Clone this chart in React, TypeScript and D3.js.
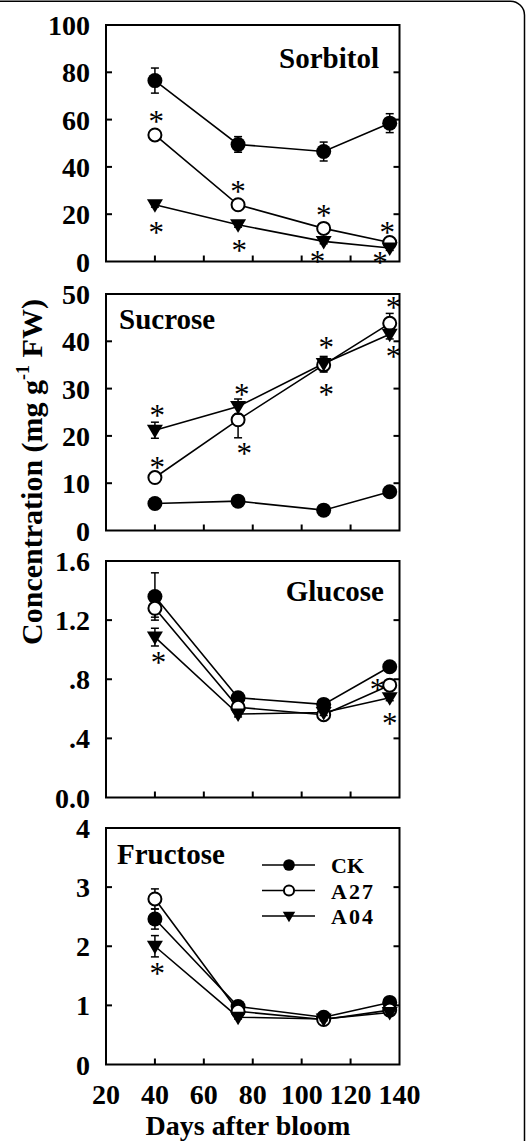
import React from "react";
import * as d3 from "d3";

// ---------- data ----------
const days = [40, 74, 109, 136];
const seriesNames = ["CK", "A27", "A04"];
const legendLabels = ["CK", "A27", "A04"];
const xTicks = [20, 40, 60, 80, 100, 120, 140];

const sorbitolCK = [76.5, 49.5, 46.5, 58.5];
const sorbitolCKErr = [5.3, 3.3, 4.0, 4.0];
const sorbitolA27 = [53.5, 24, 14, 8];
const sorbitolA27Err = [1.5, 2, 1.5, 1];
const sorbitolA04 = [24, 15.5, 8.5, 5.7];
const sorbitolA04Err = [1, 1, 1, 1];
const sorbitolStars = [[40.5, 60.8], [74, 31.3], [109, 21.1], [135, 14.1], [40.5, 13.8], [74.5, 6.3], [106.5, 1.6], [132, 1.1]];
const sorbitolTicks = [0, 20, 40, 60, 80, 100];
const sorbitolTickLabels = ["0", "20", "40", "60", "80", "100"];

const sucroseCK = [5.7, 6.2, 4.3, 8.2];
const sucroseCKErr = [0.5, 0.5, 0.5, 0.5];
const sucroseA27 = [11.2, 23.4, 35, 43.8];
const sucroseA27Err = [1, 3.8, 1.5, 2.1];
const sucroseA04 = [21.2, 26.2, 35.3, 41.5];
const sucroseA04Err = [1.7, 1.6, 1.5, 1];
const sucroseStars = [[41, 25.2], [41, 14.2], [75.5, 29.6], [76.5, 17.2], [110, 39.5], [110, 29.6], [137.5, 48], [137.5, 37.7]];
const sucroseTicks = [0, 10, 20, 30, 40, 50];
const sucroseTickLabels = ["0", "10", "20", "30", "40", "50"];

const glucoseCK = [1.36, 0.675, 0.63, 0.885];
const glucoseCKErr = [0.16, 0.02, 0.02, 0.02];
const glucoseA27 = [1.28, 0.61, 0.56, 0.76];
const glucoseA27Err = [0.06, 0.02, 0.02, 0.02];
const glucoseA04 = [1.085, 0.565, 0.575, 0.675];
const glucoseA04Err = [0.06, 0.02, 0.02, 0.02];
const glucoseStars = [[41.5, 0.94], [131, 0.757], [136, 0.53]];
const glucoseTicks = [0, 0.4, 0.8, 1.2, 1.6];
const glucoseTickLabels = ["0.0", ".4", ".8", "1.2", "1.6"];

const fructoseCK = [2.46, 0.98, 0.8, 1.05];
const fructoseCKErr = [0.17, 0.03, 0.03, 0.03];
const fructoseA27 = [2.8, 0.9, 0.76, 0.92];
const fructoseA27Err = [0.17, 0.03, 0.03, 0.03];
const fructoseA04 = [2.0, 0.8, 0.77, 0.88];
const fructoseA04Err = [0.18, 0.03, 0.03, 0.03];
const fructoseStars = [[41, 1.61]];
const fructoseTicks = [0, 1, 2, 3, 4];
const fructoseTickLabels = ["0", "1", "2", "3", "4"];

// ---------- layout ----------
const W = 526;
const H = 1141;
const X0 = 106;
const X1 = 399.5;
const PH = 236.5;
const FONT = "'Liberation Serif', 'Times New Roman', serif";
const STAR = 31;

const panels = [
  { title: "Sorbitol", vals: [sorbitolCK, sorbitolA27, sorbitolA04], errs: [sorbitolCKErr, sorbitolA27Err, sorbitolA04Err], stars: sorbitolStars, ticks: sorbitolTicks, labels: sorbitolTickLabels, top: 25, tx: 379, ty: 43, anchor: "end", legend: false },
  { title: "Sucrose", vals: [sucroseCK, sucroseA27, sucroseA04], errs: [sucroseCKErr, sucroseA27Err, sucroseA04Err], stars: sucroseStars, ticks: sucroseTicks, labels: sucroseTickLabels, top: 294, tx: 119, ty: 35, anchor: "start", legend: false },
  { title: "Glucose", vals: [glucoseCK, glucoseA27, glucoseA04], errs: [glucoseCKErr, glucoseA27Err, glucoseA04Err], stars: glucoseStars, ticks: glucoseTicks, labels: glucoseTickLabels, top: 561, tx: 384, ty: 40, anchor: "end", legend: false },
  { title: "Fructose", vals: [fructoseCK, fructoseA27, fructoseA04], errs: [fructoseCKErr, fructoseA27Err, fructoseA04Err], stars: fructoseStars, ticks: fructoseTicks, labels: fructoseTickLabels, top: 828, tx: 117, ty: 36, anchor: "start", legend: true },
];

const x = d3.scaleLinear().domain([20, 140]).range([X0, X1]);

function Marker({ kind, cx, cy, s = 1 }: { kind: number; cx: number; cy: number; s?: number }) {
  if (kind === 0) return <circle cx={cx} cy={cy} r={7.5 * s} fill="#000" />;
  if (kind === 1) return <circle cx={cx} cy={cy} r={6.5 * s} fill="#fff" stroke="#000" strokeWidth={2} />;
  const hw = 8 * s, up = 5.5 * s, dn = 8 * s;
  return <path d={`M${cx - hw},${cy - up}L${cx + hw},${cy - up}L${cx},${cy + dn}Z`} fill="#000" />;
}

function Panel({ p }: { p: any }) {
  const yMax = p.ticks[p.ticks.length - 1];
  const y = d3.scaleLinear().domain([0, yMax]).range([p.top + PH, p.top]);
  const line = d3.line<number>().x((_, i) => x(days[i])).y((v) => y(v));
  const inner = p.ticks.slice(1, -1);
  const innerX = xTicks.slice(1, -1);
  const order = [0, 1, 2];
  return (
    <g>
      {order.map((k) => (
        <path key={"l" + k} d={line(p.vals[k]) || ""} fill="none" stroke="#000" strokeWidth={1.6} />
      ))}
      {order.map((k) => (
        <g key={"s" + k}>
          {p.vals[k].map((v: number, i: number) => {
            const cx = x(days[i]);
            const e = p.errs[k][i];
            const yt = y(v + e), yb = y(v - e);
            return (
              <g key={i}>
                <line x1={cx} x2={cx} y1={yt} y2={yb} stroke="#000" strokeWidth={1.5} />
                <line x1={cx - 4} x2={cx + 4} y1={yt} y2={yt} stroke="#000" strokeWidth={1.5} />
                <line x1={cx - 4} x2={cx + 4} y1={yb} y2={yb} stroke="#000" strokeWidth={1.5} />
                <Marker kind={k} cx={cx} cy={y(v)} />
              </g>
            );
          })}
        </g>
      ))}
      {p.stars.map((s: number[], i: number) => (
        <text key={"a" + i} x={x(s[0])} y={y(s[1]) + STAR * 0.47} textAnchor="middle" fontFamily={FONT} fontSize={STAR} fill="#000">*</text>
      ))}
      <rect x={X0} y={p.top} width={X1 - X0} height={PH} fill="none" stroke="#000" strokeWidth={2} />
      {inner.map((t: number) => (
        <g key={"t" + t}>
          <line x1={X0} x2={X0 + 6} y1={y(t)} y2={y(t)} stroke="#000" strokeWidth={2} />
          <line x1={X1 - 6} x2={X1} y1={y(t)} y2={y(t)} stroke="#000" strokeWidth={2} />
        </g>
      ))}
      {innerX.map((t) => (
        <line key={"x" + t} x1={x(t)} x2={x(t)} y1={p.top + PH} y2={p.top + PH - 6} stroke="#000" strokeWidth={2} />
      ))}
      {p.ticks.map((t: number, i: number) => (
        <text key={"yl" + i} x={90} y={y(t) + 10} textAnchor="end" fontFamily={FONT} fontWeight="bold" fontSize={28} fill="#000">{p.labels[i]}</text>
      ))}
      <text x={p.tx} y={p.top + p.ty} textAnchor={p.anchor} fontFamily={FONT} fontWeight="bold" fontSize={29} fill="#000">{p.title}</text>
      {p.legend &&
        seriesNames.map((n, k) => {
          const ly = p.top + 37 + k * 25.5;
          return (
            <g key={"lg" + n}>
              <line x1={262} x2={315} y1={ly} y2={ly} stroke="#000" strokeWidth={1.5} />
              <Marker kind={k} cx={289} cy={ly} s={0.78} />
              <text x={331} y={ly + 8} fontFamily={FONT} fontWeight="bold" fontSize={22} letterSpacing={k === 0 ? 0 : 2} fill="#000">{legendLabels[k]}</text>
            </g>
          );
        })}
    </g>
  );
}

export default function App() {
  const last = panels[panels.length - 1];
  const xBase = last.top + PH;
  return (
    <svg width={W} height={H} viewBox={`0 0 ${W} ${H}`} style={{ position: "absolute", left: 0, top: 0, background: "#fff" }}>
      <rect x={0} y={0} width={W} height={H} fill="#fff" />
      <path d={`M0,1.2H510A14,14 0 0 1 524.5,15.5V${H}`} fill="none" stroke="#000" strokeWidth={1.5} />
      {panels.map((p) => (
        <Panel key={p.title} p={p} />
      ))}
      {xTicks.map((t) => (
        <text key={t} x={x(t)} y={xBase + 39.5} textAnchor="middle" fontFamily={FONT} fontWeight="bold" fontSize={28} fill="#000">{t}</text>
      ))}
      <text x={248} y={H - 6} textAnchor="middle" fontFamily={FONT} fontWeight="bold" fontSize={28} fill="#000">Days after bloom</text>
      <text transform="translate(42,472) rotate(-90)" textAnchor="middle" fontFamily={FONT} fontWeight="bold" fontSize={30} fill="#000">
        Concentration (mg g<tspan fontSize={18} dy={-13}>-1</tspan><tspan dy={13}> FW)</tspan>
      </text>
    </svg>
  );
}
